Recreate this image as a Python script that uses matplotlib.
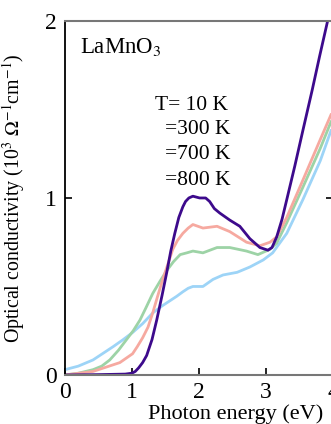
import numpy as np
import matplotlib.pyplot as plt

plt.rcParams['font.family'] = ['Liberation Serif', 'DejaVu Serif']
plt.rcParams['mathtext.fontset'] = 'stix'

# 10 K
x10 = [0, 0.5, 0.9, 1.0, 1.05, 1.1, 1.16, 1.22, 1.3, 1.37, 1.45, 1.52, 1.58, 1.64, 1.70,
       1.76, 1.80, 1.85, 1.91, 2.01, 2.10, 2.16, 2.23, 2.31, 2.46, 2.61, 2.76, 2.91, 3.03,
       3.09, 3.16, 3.24, 3.31, 3.43, 3.55, 3.69, 3.80, 3.92]
y10 = [0, 0.002, 0.005, 0.01, 0.02, 0.04, 0.07, 0.11, 0.2, 0.31, 0.45, 0.58, 0.70, 0.80, 0.89,
       0.95, 0.98, 1.0, 1.01, 1.0, 1.0, 0.98, 0.94, 0.915, 0.875, 0.84, 0.77, 0.72, 0.705,
       0.72, 0.78, 0.88, 0.99, 1.18, 1.38, 1.61, 1.80, 2.0]
# 300 K
x300 = [0, 0.42, 0.82, 1.01, 1.08, 1.16, 1.24, 1.31, 1.38, 1.46, 1.54, 1.61, 1.68, 1.76,
        1.84, 1.91, 2.06, 2.27, 2.46, 2.71, 2.91, 3.06, 3.16, 3.31, 3.55, 3.81, 3.97]
y300 = [0, 0.02, 0.07, 0.12, 0.16, 0.21, 0.27, 0.35, 0.44, 0.54, 0.63, 0.71, 0.76, 0.80,
        0.83, 0.85, 0.83, 0.84, 0.81, 0.75, 0.73, 0.75, 0.78, 0.89, 1.10, 1.33, 1.47]
# 700 K
x700 = [0, 0.2, 0.42, 0.55, 0.67, 0.8, 0.92, 1.02, 1.12, 1.21, 1.31, 1.42, 1.52, 1.62,
        1.72, 1.82, 1.91, 2.06, 2.27, 2.46, 2.71, 2.88, 3.06, 3.16, 3.31, 3.55, 3.81, 3.97]
y700 = [0, 0.01, 0.03, 0.05, 0.085, 0.14, 0.2, 0.25, 0.31, 0.38, 0.46, 0.53, 0.59, 0.64,
        0.68, 0.69, 0.70, 0.69, 0.72, 0.72, 0.70, 0.68, 0.71, 0.745, 0.86, 1.06, 1.28, 1.43]
# 800 K
x800 = [0, 0.2, 0.42, 0.6, 0.72, 0.87, 1.01, 1.16, 1.31, 1.45, 1.57, 1.67, 1.76, 1.84,
        1.91, 2.06, 2.21, 2.36, 2.57, 2.76, 2.96, 3.10, 3.31, 3.55, 3.81, 3.97]
y800 = [0.03, 0.05, 0.085, 0.13, 0.16, 0.2, 0.24, 0.29, 0.35, 0.39, 0.42, 0.445, 0.47, 0.49,
        0.50, 0.50, 0.54, 0.565, 0.58, 0.61, 0.65, 0.69, 0.80, 0.99, 1.21, 1.38]

labels = ["T= 10 K", "=300 K", "=700 K", "=800 K"]

fig = plt.figure(figsize=(3.31, 4.24), dpi=100)
ax = fig.add_axes([0.196, 0.1156, 0.81, 0.835])

ax.plot(x800, y800, color='#9dd4f7', lw=2)
ax.plot(x700, y700, color='#9dd3a6', lw=2)
ax.plot(x300, y300, color='#f6a9a0', lw=2)
ax.plot(x10, y10, color='#3d0a8c', lw=2)

ax.set_xlim(0, 4)
ax.set_ylim(0, 2)
ax.set_xticks([0, 1, 2, 3, 4])
ax.set_yticks([0, 1, 2])
ax.tick_params(direction='in', length=5, width=1.2, labelsize=17,
               right=True, top=False)
ax.tick_params(axis='x', pad=5)
ax.tick_params(axis='y', pad=6)
for s in ['bottom', 'top']:
    ax.spines[s].set_color('#777777')
    ax.spines[s].set_linewidth(1.5)
ax.spines['left'].set_linewidth(1.3)
ax.spines['right'].set_visible(False)

ax.text(0.22, 1.85, r'LaMnO$_3$', fontsize=16.5, va='center')
ax.text(1.34, 1.525, labels[0], fontsize=15.5, va='center')
for i, yy in enumerate([1.384, 1.243, 1.10]):
    ax.text(1.49, yy, labels[i + 1], fontsize=15.5, va='center')

ax.set_ylabel(r'Optical conductivity (10$^3$ $\Omega^{-1}$cm$^{-1}$)', fontsize=14.3)
ax.yaxis.set_label_coords(-0.14, 0.5)
fig.text(0.713, 0.024, 'Photon energy (eV)', fontsize=16, ha='center', va='center')

fig.savefig('out.png', dpi=100)
